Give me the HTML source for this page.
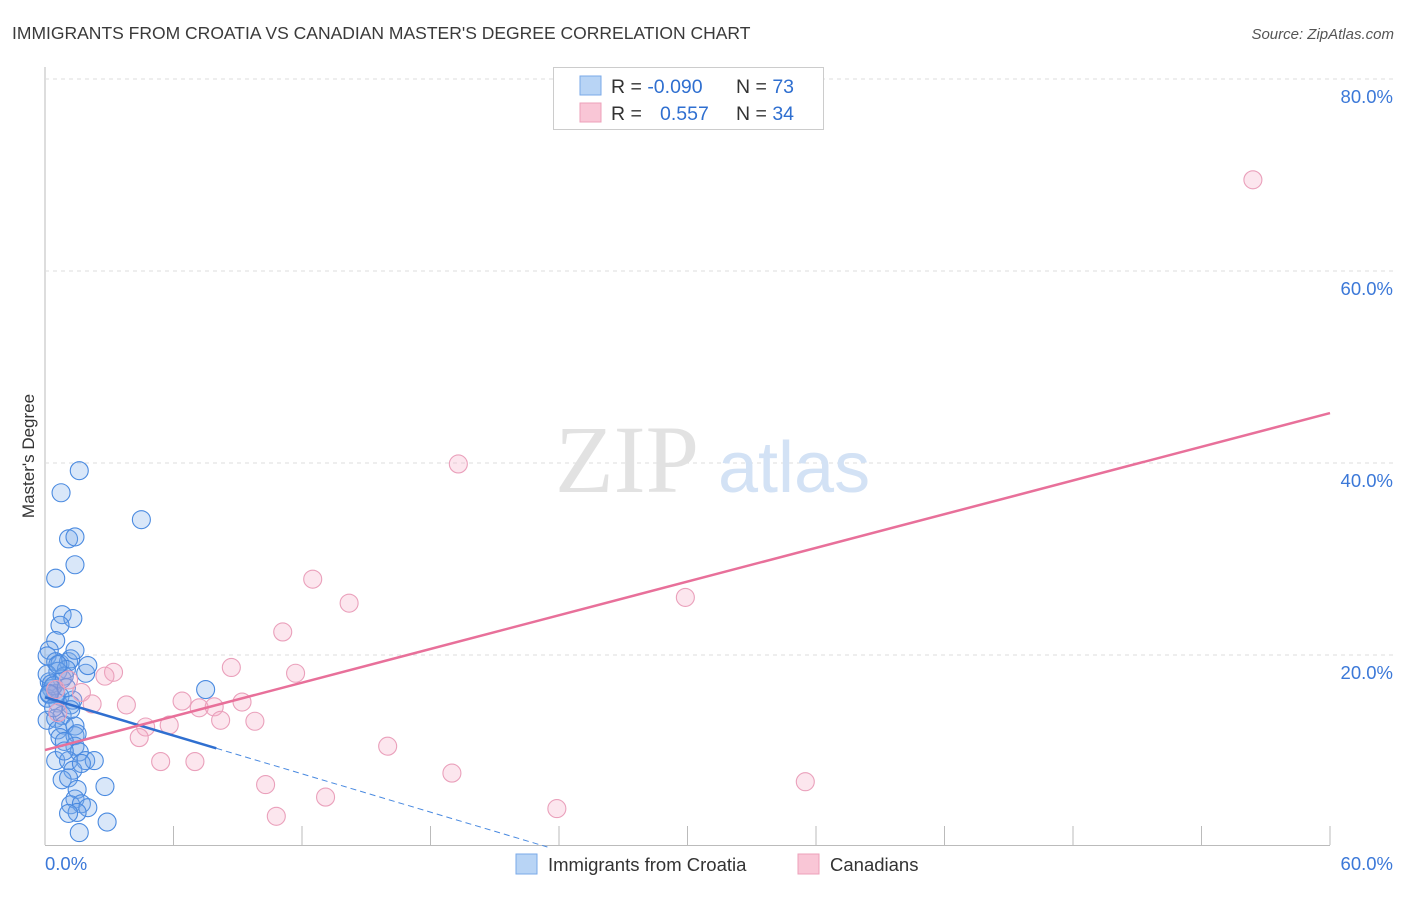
<!DOCTYPE html>
<html><head><meta charset="utf-8"><style>
body{margin:0;background:#fff;font-family:"Liberation Sans",sans-serif}
</style></head><body>
<svg width="1406" height="892" xmlns="http://www.w3.org/2000/svg" font-family="Liberation Sans, sans-serif">
<text x="12" y="39" font-size="17.5" fill="#3a3a3a">IMMIGRANTS FROM CROATIA VS CANADIAN MASTER'S DEGREE CORRELATION CHART</text>
<text x="1394" y="39" font-size="15" fill="#555" font-style="italic" text-anchor="end">Source: ZipAtlas.com</text>
<g id="grid"></g>
<text x="555" y="492" font-size="96" fill="#e2e2e2" font-family="Liberation Serif, serif">ZIP</text>
<text x="718" y="492" font-size="72" fill="#d3e2f5">atlas</text>
<text transform="translate(34,456) rotate(-90)" font-size="17" fill="#333" text-anchor="middle">Master's Degree</text>
<g id="pts"></g>
<g id="lines"></g>
<g>
<rect x="553.5" y="67.5" width="270" height="62" fill="#fff" stroke="#ccc"/>
<rect x="580" y="76" width="21" height="19" fill="#b8d4f5" stroke="#7aaae8"/>
<text x="611" y="93" font-size="19.5" fill="#333">R = <tspan fill="#2f6fd0">-0.090</tspan></text>
<text x="736" y="93" font-size="19.5" fill="#333">N = <tspan fill="#2f6fd0">73</tspan></text>
<rect x="580" y="103" width="21" height="19" fill="#f9c6d6" stroke="#eda0ba"/>
<text x="611" y="120" font-size="19.5" fill="#333">R = <tspan fill="#2f6fd0" x="660">0.557</tspan></text>
<text x="736" y="120" font-size="19.5" fill="#333">N = <tspan fill="#2f6fd0">34</tspan></text>
</g>
<g>
<rect x="516" y="854" width="21" height="20" fill="#b8d4f5" stroke="#7aaae8"/>
<text x="548" y="871" font-size="18.5" fill="#333">Immigrants from Croatia</text>
<rect x="798" y="854" width="21" height="20" fill="#f9c6d6" stroke="#eda0ba"/>
<text x="830" y="871" font-size="18.5" fill="#333">Canadians</text>
</g>
</svg>
<script>
const xTicks=[0,60];
const yTicks=[20,40,60,80];
const blueX=[1.6,0.75,4.5,1.1,1.4,1.4,0.5,0.8,1.3,0.7,0.5,0.2,0.1,0.5,0.7,1.1,1.2,1.0,0.6,0.8,0.2,0.3,0.5,0.7,0.1,0.6,1.2,0.1,0.5,0.8,0.9,1.4,0.6,0.7,1.4,1.5,1.4,1.6,1.9,2.3,0.5,1.1,1.3,0.8,1.1,1.5,1.4,1.2,1.7,2.0,1.5,1.1,1.6,2.9,2.8,1.9,1.4,7.5,0.9,1.3,0.1,0.3,0.4,0.2,0.9,1.0,0.6,2.0,1.2,0.2,0.4,0.9,1.7];
const blueY=[39.2,36.9,34.1,32.1,32.3,29.4,28.0,24.2,23.8,23.1,21.5,20.5,19.9,19.3,19.1,19.3,19.6,18.5,18.3,17.5,17.2,16.5,16.0,15.7,15.5,15.0,14.8,13.2,13.4,13.7,12.7,12.6,12.2,11.4,11.6,11.8,10.5,9.9,9.0,9.0,9.0,9.0,8.0,7.0,7.2,6.0,5.0,4.4,4.5,4.1,3.6,3.5,1.5,2.6,6.3,18.1,20.5,16.4,11.0,15.3,18.0,17.0,16.8,15.9,17.8,16.6,19.0,18.9,14.3,16.0,14.5,10.0,8.7];
const pinkX=[56.4,19.3,12.5,14.2,29.9,11.1,8.7,11.7,3.2,2.8,1.7,2.2,3.8,6.4,7.2,7.9,9.2,8.2,9.8,4.7,5.8,4.4,5.4,7.0,16.0,19.0,10.3,13.1,10.8,23.9,35.5,0.6,1.1,0.5];
const pinkY=[69.5,39.9,27.9,25.4,26.0,22.4,18.7,18.1,18.2,17.8,16.1,14.9,14.8,15.2,14.5,14.6,15.1,13.2,13.1,12.5,12.7,11.4,8.9,8.9,10.5,7.7,6.5,5.2,3.2,4.0,6.8,14.0,17.4,16.4];
const blueFit=[15.6,-0.665]; // intercept, slope
const pinkFit=[10.1,0.585];
const X=v=>45+v*(1285/60), Y=v=>847-v*9.6;
const NS='http://www.w3.org/2000/svg';
function mk(t,a,p){const e=document.createElementNS(NS,t);for(const k in a)e.setAttribute(k,a[k]);p.appendChild(e);return e;}
const grid=document.getElementById('grid');
mk('line',{x1:45,y1:67,x2:45,y2:845,stroke:'#bbb'},grid);
mk('line',{x1:45,y1:845.5,x2:1330,y2:845.5,stroke:'#bbb'},grid);
for(let i=1;i<=10;i++){const l=mk('line',{x1:X(i*6),y1:826,x2:X(i*6),y2:845,stroke:'#bbb'},grid);

}
yTicks.forEach(v=>{const l=mk('line',{x1:45,y1:Y(v),x2:1395,y2:Y(v),stroke:'#ddd','stroke-dasharray':'4,4'},grid);


const t=mk('text',{x:1393,y:Y(v)+24,'font-size':18.5,fill:'#3b78d8','text-anchor':'end'},grid);t.textContent=v.toFixed(1)+'%';

});
xTicks.forEach((v,i)=>{const t=mk('text',{x:i?1393:45,y:870,'font-size':18.5,fill:'#3b78d8','text-anchor':i?'end':'start'},grid);t.textContent=v.toFixed(1)+'%';

});
const pts=document.getElementById('pts');
blueX.forEach((x,i)=>{const c=mk('circle',{cx:X(x),cy:Y(blueY[i]),r:9,fill:'rgba(120,170,235,0.28)',stroke:'#4a8ae0','stroke-width':1.1},pts);

});
pinkX.forEach((x,i)=>{const c=mk('circle',{cx:X(x),cy:Y(pinkY[i]),r:9,fill:'rgba(245,165,195,0.28)',stroke:'#eaa0bb','stroke-width':1.1},pts);

});
const ln=document.getElementById('lines');
const bz=-blueFit[0]/blueFit[1];
let l=mk('line',{x1:X(0),y1:Y(blueFit[0]),x2:X(8),y2:Y(blueFit[0]+blueFit[1]*8),stroke:'#2f6fd0','stroke-width':2.5},ln);


l=mk('line',{x1:X(8),y1:Y(blueFit[0]+blueFit[1]*8),x2:X(bz),y2:Y(0),stroke:'#4a8ae0','stroke-width':1,'stroke-dasharray':'6,4'},ln);


l=mk('line',{x1:X(0),y1:Y(pinkFit[0]),x2:X(60),y2:Y(pinkFit[0]+pinkFit[1]*60),stroke:'#e8709a','stroke-width':2.5},ln);


</script>
</body></html>
